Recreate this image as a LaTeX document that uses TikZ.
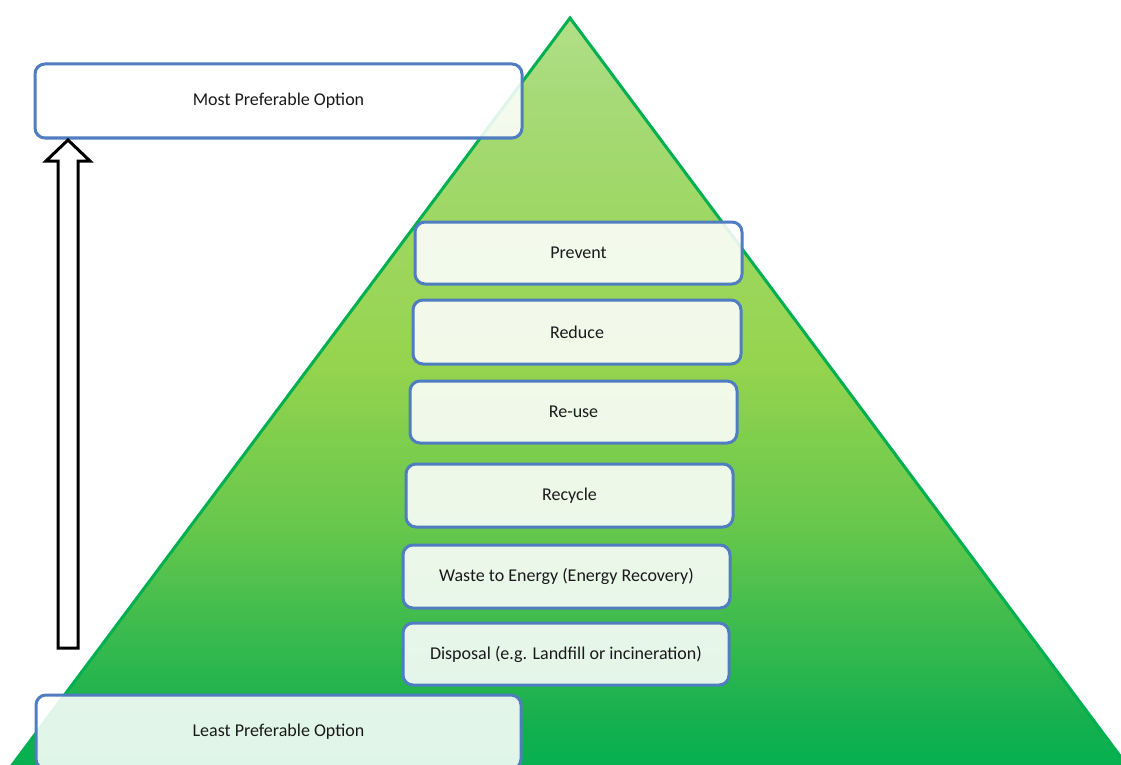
\documentclass[tikz,border=0pt]{standalone}
\usepackage{fontspec}
\setmainfont{Carlito}
\definecolor{boxblue}{HTML}{4F7DC0}
\definecolor{trigreen}{HTML}{00B050}
\definecolor{txt}{HTML}{1A1A1A}
\definecolor{gA}{HTML}{B2DF88}
\definecolor{gB}{HTML}{A6DA78}
\definecolor{gC}{HTML}{96D44E}
\definecolor{gD}{HTML}{66C74C}
\definecolor{gE}{HTML}{16B04F}
\definecolor{gF}{HTML}{00B050}
\pgfdeclareverticalshading{pyrshade}{100bp}{color(0bp)=(gF); color(25bp)=(gF); color(29bp)=(gE); color(41.5bp)=(gD); color(52.5bp)=(gC); color(70bp)=(gB); color(75bp)=(gA); color(100bp)=(gA)}
\tikzset{
  optbox/.style={draw=boxblue, line width=3pt, rounded corners=10pt, fill=white,
    fill opacity=0.88, text opacity=1, draw opacity=1, text=txt,
    font=\fontsize{18}{20}\selectfont, inner sep=0pt, minimum height=#1},
  optbox/.default=62pt,
  hollowarrow/.style={draw=black, line width=3pt, fill=white, line join=miter}
}
\begin{document}
\begin{tikzpicture}[x=1pt,y=-1pt]
\useasboundingbox (0,0) rectangle (1121,765);
\clip (0,0) rectangle (1121,765);
% pyramid
\coordinate (apex) at (570,18);
\coordinate (bl) at (1,780);
\coordinate (br) at (1138,780);
\shade[shading=pyrshade] (apex) -- (br) -- (bl) -- cycle;
\draw[trigreen, line width=3pt, line join=miter] (bl) -- (apex) -- (br);
% end boxes
\node[optbox=74pt, minimum width=487pt] (most) at (278.5,101) {Most Preferable Option};
\node[optbox=74pt, minimum width=485pt] (least) at (278.5,732) {Least Preferable Option};
% hierarchy
\node[optbox=62pt, minimum width=327pt] (prevent) at (578.5,253) {Prevent};
\node[optbox=64pt, minimum width=328pt] (reduce) at (577,332) {Reduce};
\node[optbox=62pt, minimum width=327pt] (reuse) at (573.5,412) {Re-use};
\node[optbox=63pt, minimum width=327pt] (recycle) at (569.5,495.5) {Recycle};
\node[optbox=63pt, minimum width=327pt] (wte) at (566.5,576.5) {Waste to Energy (Energy Recovery)};
\node[optbox=62pt, minimum width=326pt] (disposal) at (566,654) {Disposal (e.g. Landfill or incineration)};
% block arrow
\coordinate (tip) at (68,140);
\coordinate (base) at (68,648);
\draw[hollowarrow] (tip) -- ++(22,21) -- ++(-12,0) |- ([xshift=-10pt]base) |- ++(0,-487) -- ++(-12,0) -- cycle;
\end{tikzpicture}
\end{document}
